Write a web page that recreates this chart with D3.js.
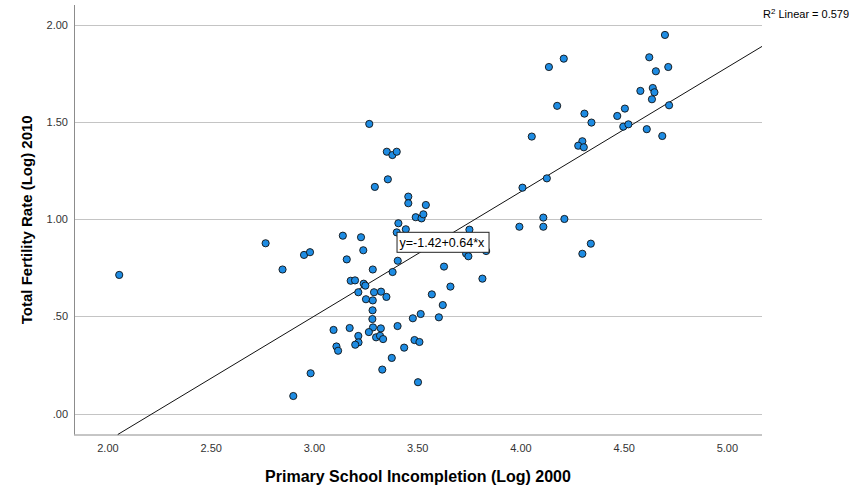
<!DOCTYPE html>
<html>
<head>
<meta charset="utf-8">
<script src="https://cdn.jsdelivr.net/npm/d3@7"></script>
<style>
  html, body { margin: 0; padding: 0; background: #fff; }
  svg { display: block; font-family: "Liberation Sans", Arial, sans-serif; }
</style>
</head>
<body>
<svg id="chart" width="849" height="499"></svg>
<script>
// Primary School Incompletion (Log) 2000
const xValues = [
  2.057, 2.766, 2.848, 2.952, 2.981, 2.900, 2.984, 3.140, 3.228, 3.239,
  3.159, 3.285, 3.178, 3.199, 3.241, 3.249, 3.215, 3.291, 3.325, 3.351,
  3.252, 3.285, 3.284, 3.283, 3.095, 3.173, 3.286, 3.324, 3.266, 3.215,
  3.301, 3.320, 3.335, 3.216, 3.200, 3.109, 3.117, 3.377, 3.331, 3.405,
  3.479, 3.517, 3.605, 3.437, 3.487, 3.511, 3.504, 3.571, 3.661, 3.624,
  3.630, 3.816, 3.834, 3.737, 3.748, 3.995, 3.381, 3.406, 3.401, 3.409,
  3.445, 3.457, 3.457, 3.542, 3.493, 3.521, 3.530, 3.753, 3.268, 3.353,
  3.380, 3.401, 3.358, 3.295, 4.138, 4.210, 4.178, 4.310, 4.344, 4.469,
  4.055, 4.300, 4.280, 4.307, 4.128, 4.010, 4.111, 4.111, 4.213, 4.341,
  4.300, 4.700, 4.624, 4.656, 4.716, 4.581, 4.641, 4.649, 4.637, 4.506,
  4.720, 4.498, 4.523, 4.612, 4.687
];
// Total Fertility Rate (Log) 2010
const yValues = [
  0.713, 0.876, 0.741, 0.816, 0.830, 0.090, 0.207, 0.915, 0.907, 0.840,
  0.793, 0.741, 0.683, 0.685, 0.668, 0.658, 0.624, 0.624, 0.627, 0.600,
  0.588, 0.582, 0.531, 0.486, 0.430, 0.440, 0.443, 0.438, 0.419, 0.399,
  0.392, 0.400, 0.383, 0.366, 0.354, 0.345, 0.323, 0.286, 0.226, 0.450,
  0.490, 0.512, 0.495, 0.339, 0.378, 0.368, 0.161, 0.613, 0.653, 0.558,
  0.756, 0.694, 0.836, 0.823, 0.809, 0.961, 0.728, 0.786, 0.932, 0.979,
  0.948, 1.116, 1.082, 1.073, 1.010, 1.004, 1.025, 0.946, 1.490, 1.347,
  1.330, 1.347, 1.205, 1.166, 1.783, 1.826, 1.583, 1.543, 1.497, 1.531,
  1.425, 1.401, 1.378, 1.370, 1.210, 1.162, 1.008, 0.961, 1.001, 0.874,
  0.822, 1.948, 1.833, 1.761, 1.783, 1.660, 1.675, 1.653, 1.617, 1.569,
  1.586, 1.476, 1.488, 1.463, 1.428
];
const xTicks = [2.0, 2.5, 3.0, 3.5, 4.0, 4.5, 5.0];
const yTicks = [0.0, 0.5, 1.0, 1.5, 2.0];
const fitIntercept = -1.42;
const fitSlope = 0.64;
const rSquared = 0.579;
const xTitle = "Primary School Incompletion (Log) 2000";
const yTitle = "Total Fertility Rate (Log) 2010";

const svg = d3.select("#chart");
const plot = { left: 74, right: 762, top: 5, bottom: 434.5 };

const x = d3.scaleLinear().domain([1.838, 5.170]).range([plot.left, plot.right]);
const y = d3.scaleLinear().domain([-0.108, 2.102]).range([plot.bottom, plot.top]);

const fmt = v => { const s = d3.format(".2f")(v); return s.startsWith("0.") ? s.slice(1) : s; };

// gridlines
svg.append("g")
  .selectAll("line")
  .data(yTicks)
  .join("line")
  .attr("x1", plot.left).attr("x2", plot.right)
  .attr("y1", d => Math.round(y(d)) + 0.5).attr("y2", d => Math.round(y(d)) + 0.5)
  .attr("stroke", "#c4c4c4").attr("stroke-width", 1);

// y axis
const yAxis = svg.append("g")
  .attr("transform", `translate(${plot.left},0)`)
  .call(d3.axisLeft(y).tickValues(yTicks).tickFormat(fmt).tickSize(0).tickPadding(6));
yAxis.select(".domain").attr("stroke", "#8c8c8c").attr("d", `M0.5,${plot.top}V${plot.bottom}`);
yAxis.selectAll("text").attr("font-size", 11).attr("fill", "#333").attr("font-family", "Liberation Sans, Arial, sans-serif");

// x axis
const xAxis = svg.append("g")
  .attr("transform", `translate(0,${plot.bottom})`)
  .call(d3.axisBottom(x).tickValues(xTicks).tickFormat(fmt).tickSize(0).tickPadding(10));
xAxis.select(".domain").attr("stroke", "#8c8c8c").attr("d", `M${plot.left},0.5H${plot.right}`);
xAxis.selectAll("text").attr("font-size", 11).attr("fill", "#333").attr("font-family", "Liberation Sans, Arial, sans-serif");

// fit line
const xStart = (y.domain()[0] - fitIntercept) / fitSlope;
const xEnd = x.domain()[1];
svg.append("line")
  .attr("x1", x(xStart)).attr("y1", y(fitIntercept + fitSlope * xStart))
  .attr("x2", x(xEnd)).attr("y2", y(fitIntercept + fitSlope * xEnd))
  .attr("stroke", "#111").attr("stroke-width", 1);

// points
svg.append("g")
  .selectAll("circle")
  .data(xValues.map((v, i) => [v, yValues[i]]))
  .join("circle")
  .attr("cx", d => x(d[0])).attr("cy", d => y(d[1]))
  .attr("r", 3.6)
  .attr("fill", "#1e8ce3")
  .attr("stroke", "#111").attr("stroke-width", 0.9);

// equation label
const lab = svg.append("g").attr("transform", `translate(${x(3.40)},${y(0.935)})`);
const labText = lab.append("text")
  .attr("x", 3).attr("y", 15)
  .attr("font-size", 12.5).attr("fill", "#000")
  .text(`y=${fitIntercept.toFixed(2)}+${fitSlope.toFixed(2)}*x`);
const bb = labText.node().getBBox();
lab.insert("rect", "text")
  .attr("x", 0.5).attr("y", 0.5)
  .attr("width", Math.round(bb.width + 6)).attr("height", 20)
  .attr("fill", "#fff").attr("stroke", "#222").attr("stroke-width", 1);

// R squared
const r2 = svg.append("text").attr("x", plot.right + 1).attr("y", 18)
  .attr("font-size", 11).attr("fill", "#000");
r2.append("tspan").text("R");
r2.append("tspan").attr("dy", -4).attr("font-size", 8).text("2");
r2.append("tspan").attr("dy", 4).text(` Linear = ${rSquared}`);

// titles
svg.append("text")
  .attr("x", (plot.left + plot.right) / 2 - 0).attr("y", 482)
  .attr("text-anchor", "middle")
  .attr("font-size", 16).attr("font-weight", "bold").attr("fill", "#000")
  .text(xTitle);
svg.append("text")
  .attr("transform", `translate(32,${(plot.top + plot.bottom) / 2}) rotate(-90)`)
  .attr("text-anchor", "middle")
  .attr("font-size", 15).attr("font-weight", "bold").attr("fill", "#000")
  .text(yTitle);
</script>
</body>
</html>
